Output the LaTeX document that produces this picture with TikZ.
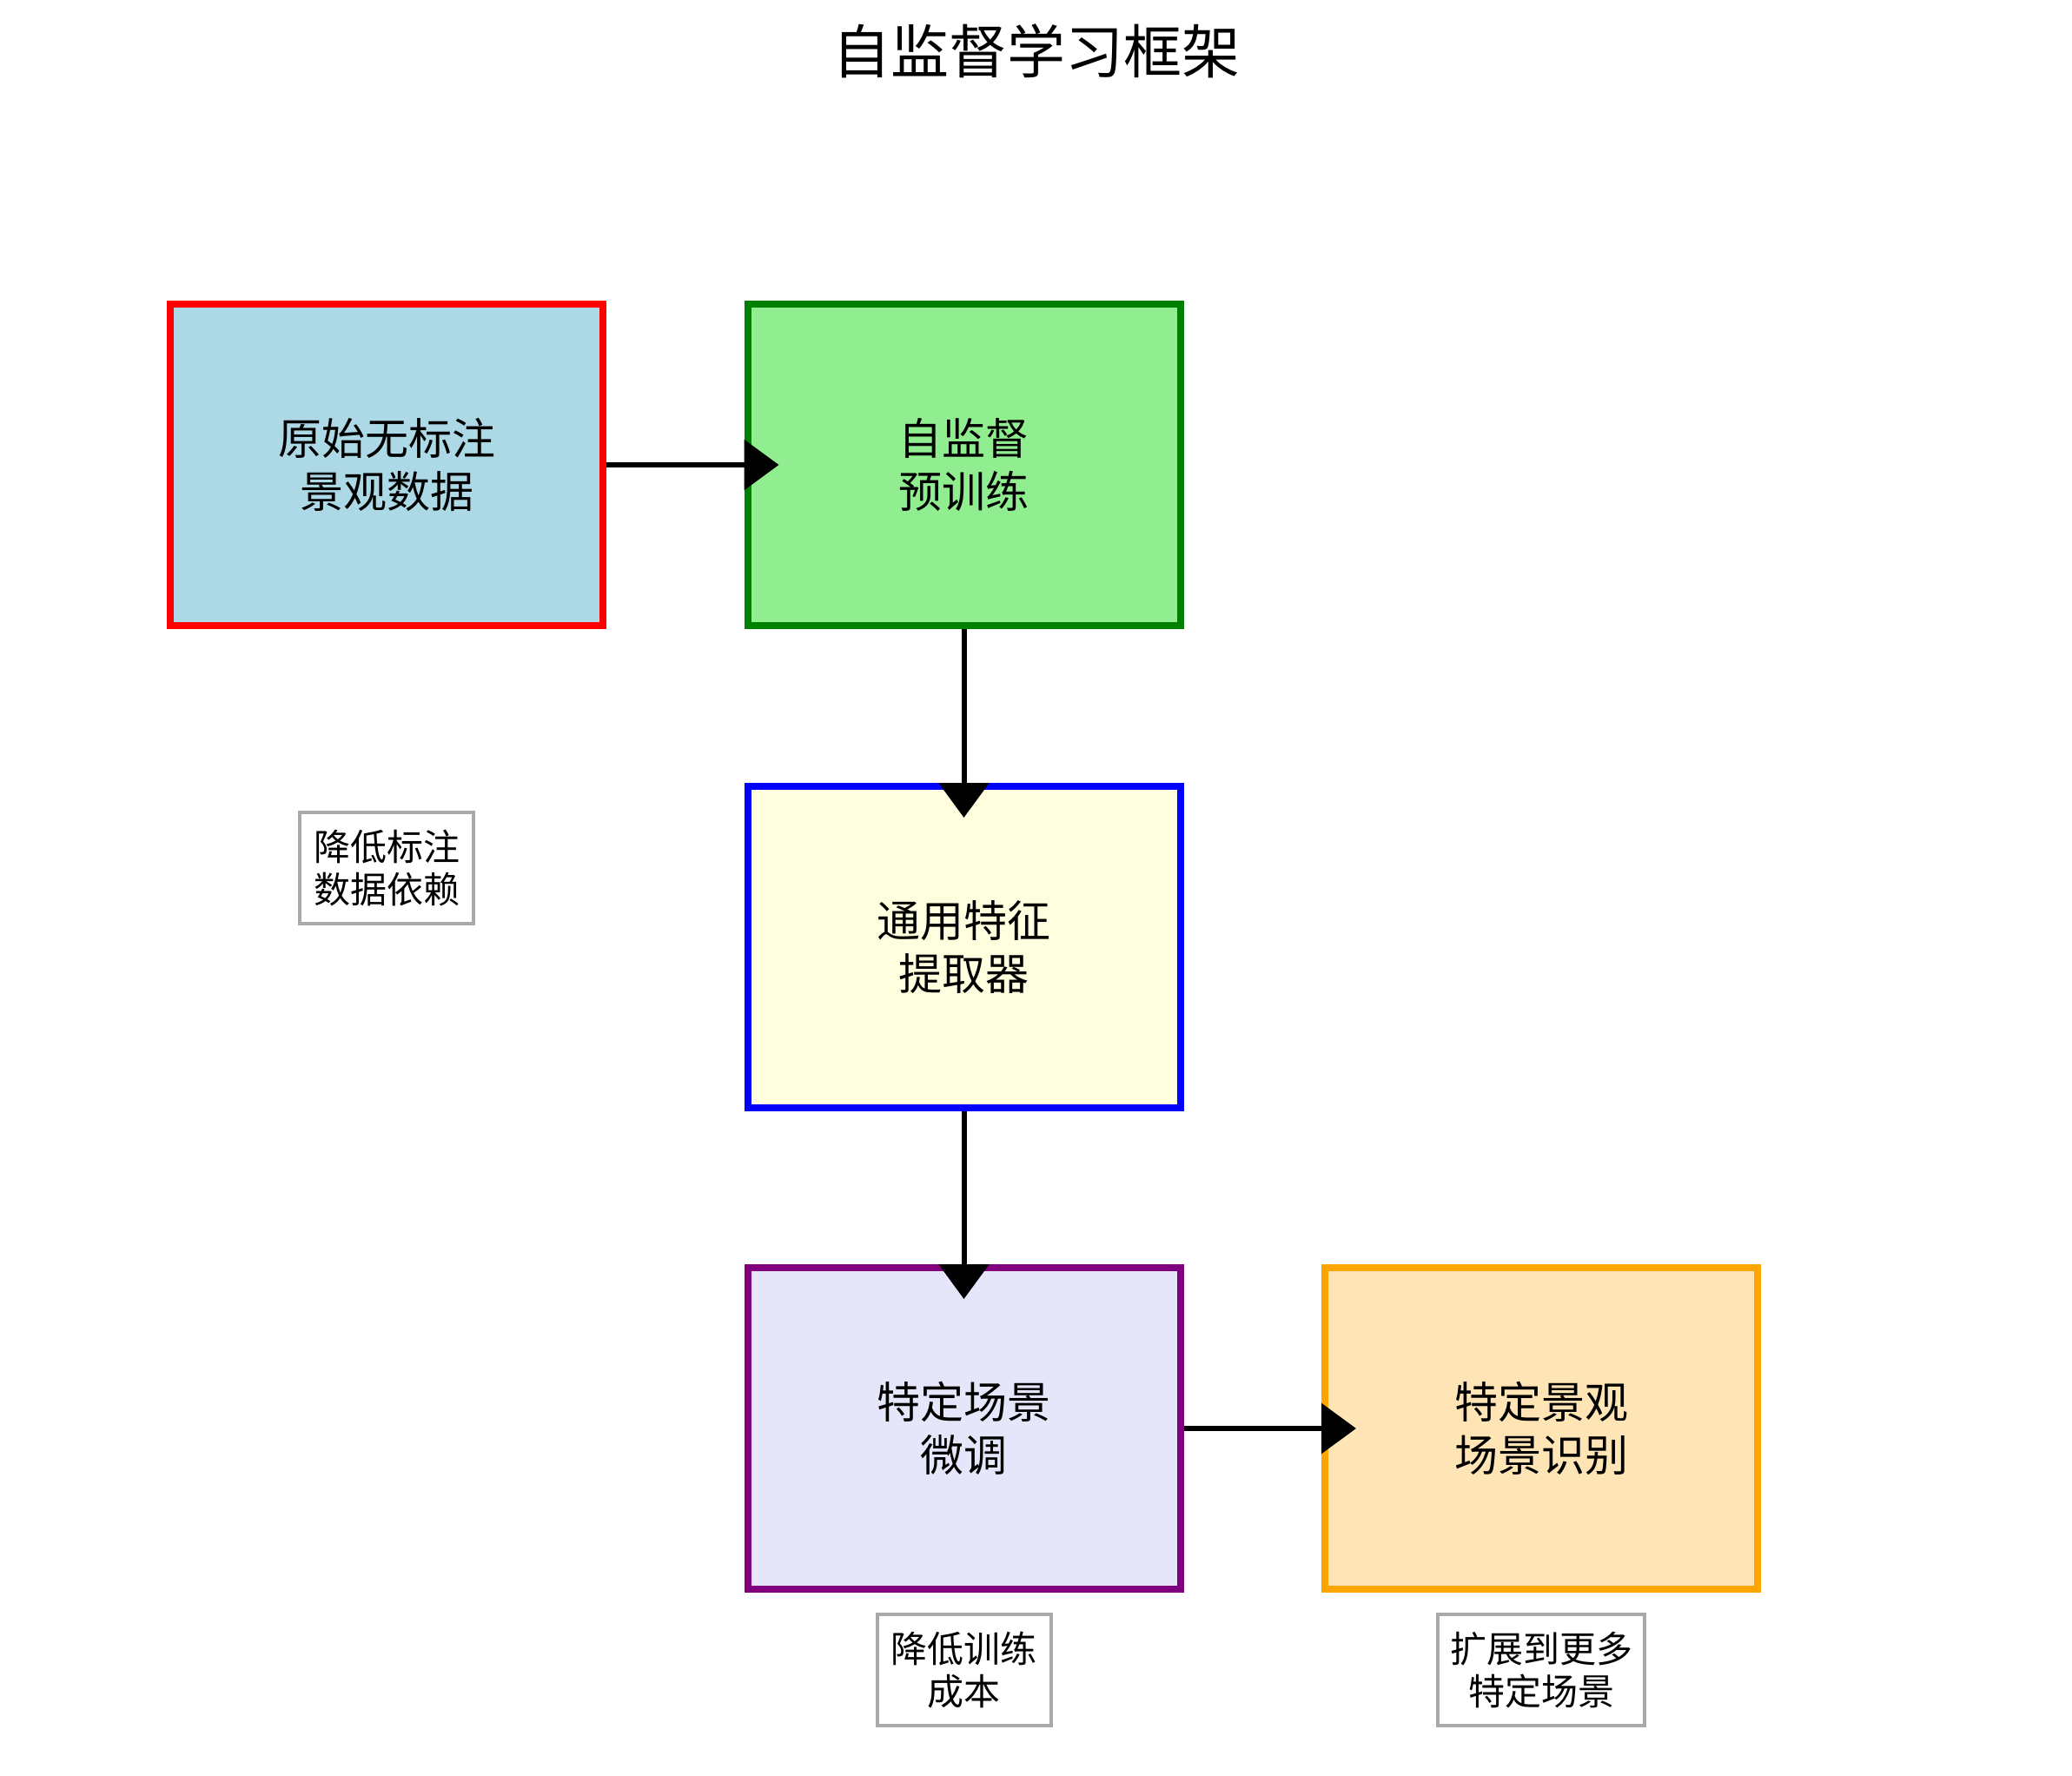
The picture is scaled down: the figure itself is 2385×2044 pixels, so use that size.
\documentclass[tikz,border=0pt]{standalone}
\usepackage{fontspec}
\newfontfamily\cjk{Noto Sans CJK SC}
\usetikzlibrary{arrows.meta}
\definecolor{cLightBlue}{HTML}{ADD8E6}
\definecolor{cLightGreen}{HTML}{90EE90}
\definecolor{cGreen}{HTML}{008000}
\definecolor{cLightYellow}{HTML}{FFFFE0}
\definecolor{cLavender}{HTML}{E6E6FA}
\definecolor{cPurple}{HTML}{800080}
\definecolor{cOrange}{HTML}{FFA500}
\definecolor{cMoccasin}{HTML}{FFE4B5}
\definecolor{cGray}{HTML}{A9A9A9}
\begin{document}
\begin{tikzpicture}[x=1pt,y=1pt,
  stagebox/.style={draw, line width=8pt, minimum width=498pt, minimum height=370pt,
    align=center, inner sep=0pt, font=\cjk\fontsize{50}{61}\selectfont},
  notebox/.style={draw=cGray, fill=white, line width=4pt, minimum width=200pt, minimum height=128pt,
    align=center, inner sep=0pt, font=\cjk\fontsize{42}{49}\selectfont},
  flow/.style={line width=6pt, -{Triangle[length=40pt,width=57pt]}, shorten >=-40pt}
]
\useasboundingbox (0,0) rectangle (2385,-2044);
\node[font=\cjk\fontsize{67}{80}\selectfont, inner sep=0pt] (title) at (1193,-59) {自监督学习框架};

\node[stagebox, fill=cLightBlue, draw=red] (raw) at (445,-535) {原始无标注\\景观数据};
\node[stagebox, fill=cLightGreen, draw=cGreen] (pre) at (1109.5,-535) {自监督\\预训练};
\node[stagebox, fill=cLightYellow, draw=blue] (feat) at (1109.5,-1090) {通用特征\\提取器};
\node[stagebox, fill=cLavender, draw=cPurple] (fine) at (1109.5,-1644) {特定场景\\微调};
\node[stagebox, fill=cMoccasin, draw=cOrange] (rec) at (1774,-1644) {特定景观\\场景识别};

\node[notebox] (n1) at (445,-999) {降低标注\\数据依赖};
\node[notebox] (n2) at (1109.5,-1922) {降低训练\\成本};
\node[notebox, minimum width=238pt] (n3) at (1774,-1922) {扩展到更多\\特定场景};

\draw[flow] (raw.east) -- (pre.west);
\draw[flow] (pre.south) -- (feat.north);
\draw[flow] (feat.south) -- (fine.north);
\draw[flow] (fine.east) -- (rec.west);
\end{tikzpicture}
\end{document}
